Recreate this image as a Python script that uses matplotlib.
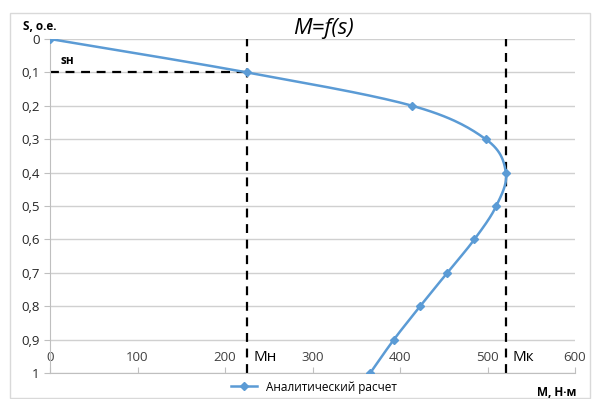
import numpy as np
import matplotlib
matplotlib.use("Agg")
import matplotlib.pyplot as plt
from matplotlib.patches import Rectangle
from matplotlib.lines import Line2D

# данные: скольжение и момент
s_vals = [0.0, 0.1, 0.2, 0.3, 0.4, 0.5, 0.6, 0.7, 0.8, 0.9, 1.0]
M_vals = [0, 225, 414, 498, 521, 510, 485, 454, 423, 393, 366]
M_nom = 225
s_nom = 0.1
M_crit = 521
x_ticks = [0, 100, 200, 300, 400, 500, 600]
y_ticks = [0, 0.1, 0.2, 0.3, 0.4, 0.5, 0.6, 0.7, 0.8, 0.9, 1.0]
y_labels = ["0", "0,1", "0,2", "0,3", "0,4", "0,5", "0,6", "0,7", "0,8", "0,9", "1"]

blue = "#5B9BD5"
plt.rcParams['font.family'] = ['Open Sans', 'DejaVu Sans']


def catmull(xs, ys, n=30):
    # сглаживание как в Excel (Catmull-Rom)
    P = np.column_stack([xs, ys]).astype(float)
    P = np.vstack([P[0], P, P[-1]])
    out = []
    t = np.linspace(0, 1, n)[:, None]
    for i in range(1, len(P) - 2):
        p0, p1, p2, p3 = P[i - 1], P[i], P[i + 1], P[i + 2]
        c = 0.5 * ((2 * p1) + (-p0 + p2) * t + (2 * p0 - 5 * p1 + 4 * p2 - p3) * t ** 2
                   + (-p0 + 3 * p1 - 3 * p2 + p3) * t ** 3)
        out.append(c)
    out = np.vstack(out)
    return out[:, 0], out[:, 1]


fig = plt.figure(figsize=(5.95, 3.99), dpi=100)
fig.patches.append(Rectangle((10 / 595, 1 / 399), 580 / 595, 385 / 399,
                             transform=fig.transFigure, fill=False,
                             edgecolor="#D9D9D9", linewidth=1))
ax = fig.add_axes([50 / 595, 1 - 373 / 399, 525 / 595, 334 / 399])

cx, cy = catmull(M_vals, s_vals)
ax.plot(cx, cy, color=blue, linewidth=1.8, zorder=3)
ax.plot(M_vals, s_vals, linestyle="none", marker="D", markersize=4,
        color=blue, zorder=4)

ax.axvline(M_nom, color="black", linestyle=(0, (4, 3)), linewidth=1.6, zorder=2)
ax.axvline(M_crit, color="black", linestyle=(0, (4, 3)), linewidth=1.6, zorder=2)
ax.plot([0, M_nom], [s_nom, s_nom], color="black", linestyle=(0, (4, 3)),
        linewidth=1.6, zorder=2)

ax.set_xlim(0, 600)
ax.set_ylim(1, 0)
ax.set_xticks(x_ticks)
ax.set_yticks(y_ticks)
ax.set_yticklabels(y_labels)
ax.yaxis.grid(True, color="#D0D0D0", linewidth=1)
ax.set_axisbelow(True)
for sp in ["top", "right"]:
    ax.spines[sp].set_visible(False)
for sp in ["left", "bottom"]:
    ax.spines[sp].set_color("#BFBFBF")
ax.tick_params(axis="x", direction="in", length=4, color="#BFBFBF",
               pad=-16, labelsize=9.5, labelcolor="#404040")
ax.tick_params(axis="y", direction="out", length=4, color="#BFBFBF",
               labelsize=9.5, labelcolor="#262626")

ax.set_title("M=f(s)", fontstyle="italic", fontsize=16, pad=1)
ax.title.set_position((0.52, 1.0))
fig.text(40 / 595, 1 - 26 / 399, "S, o.e.", fontsize=8.5, fontweight="bold",
         ha="center", va="center")
ax.text(12, 0.065, "sн", fontsize=8.5, fontweight="bold", ha="left", va="center")
ax.text(M_nom + 7, 0.955, "Мн", fontsize=11, ha="left", va="center")
ax.text(M_crit + 8, 0.955, "Мк", fontsize=11, ha="left", va="center")
fig.text(576 / 595, 1 - 392 / 399, "М, Н·м", fontsize=8.5, fontweight="bold",
         ha="right", va="center")

h = Line2D([], [], color=blue, marker="D", markersize=4, linewidth=1.8)
fig.legend([h], ["Аналитический расчет"], loc="center",
           bbox_to_anchor=(314 / 595, 1 - 387 / 399), frameon=False,
           fontsize=8.5, handlelength=2.2)

fig.savefig("out.png", dpi=100)
